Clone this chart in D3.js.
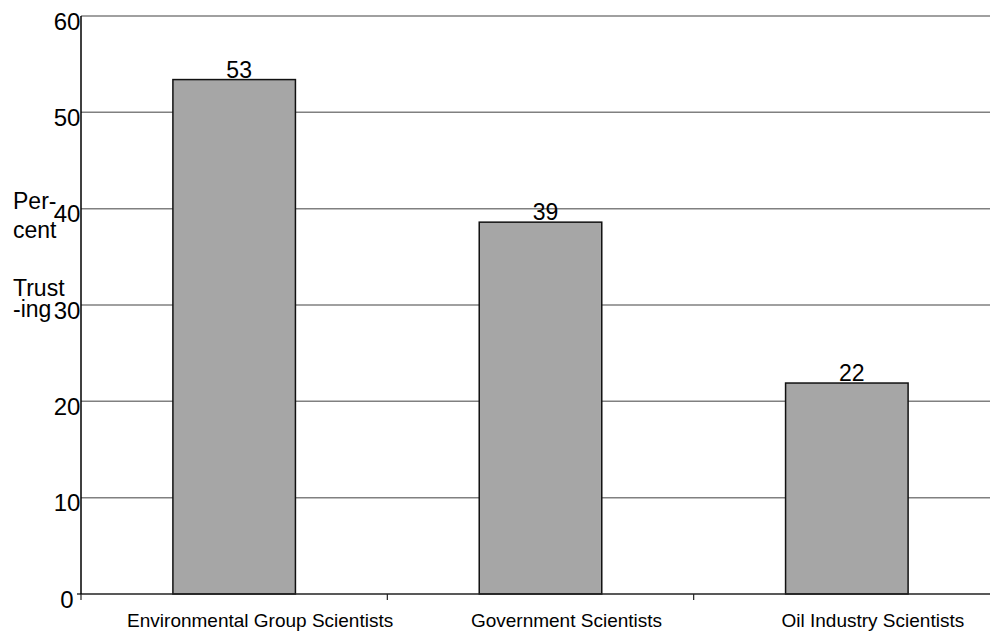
<!DOCTYPE html>
<html>
<head>
<meta charset="utf-8">
<script src="https://cdn.jsdelivr.net/npm/d3@7"></script>
<style>
  html, body { margin: 0; padding: 0; background: #fff; }
  svg { display: block; font-family: "Liberation Sans", Arial, Helvetica, sans-serif; }
</style>
</head>
<body>
<svg id="chart" width="990" height="635"></svg>
<script>
const categories = ["Environmental Group Scientists", "Government Scientists", "Oil Industry Scientists"];
const values = [53.4, 38.6, 21.9];
const valueLabels = ["53", "39", "22"];
const yTicks = [0, 10, 20, 30, 40, 50, 60];
const yTitleLines = ["Per-", "cent", "Trust", "-ing"];

(function () {
const svg = d3.select("#chart");
const mLeft = 81, mRight = 1000, mTop = 16, mBottom = 594;

const y = d3.scaleLinear().domain([0, 60]).range([mBottom, mTop]);
const x = d3.scaleBand().domain(categories).range([mLeft, mRight]).padding(0);
const barFrac = 0.4;

// gridlines
svg.append("g").selectAll("line")
  .data(yTicks.filter(t => t > 0))
  .join("line")
  .attr("x1", mLeft).attr("x2", 990)
  .attr("y1", d => y(d)).attr("y2", d => y(d))
  .attr("stroke", "#808080").attr("stroke-width", 1.5);

// bars
svg.append("g").selectAll("rect")
  .data(values)
  .join("rect")
  .attr("x", (d, i) => x(categories[i]) + x.bandwidth() * (1 - barFrac) / 2)
  .attr("width", x.bandwidth() * barFrac)
  .attr("y", d => y(d))
  .attr("height", d => y(0) - y(d))
  .attr("fill", "#a6a6a6")
  .attr("stroke", "#111")
  .attr("stroke-width", 1.5);

// value labels
svg.append("g").selectAll("text")
  .data(values)
  .join("text")
  .attr("x", (d, i) => x(categories[i]) + x.bandwidth() / 2 + 5)
  .attr("y", d => y(d) - 2)
  .attr("text-anchor", "middle")
  .attr("font-size", 23)
  .attr("fill", "#000")
  .text((d, i) => valueLabels[i]);

// x axis line
svg.append("line")
  .attr("x1", mLeft).attr("x2", 990)
  .attr("y1", y(0)).attr("y2", y(0))
  .attr("stroke", "#222").attr("stroke-width", 1.5);

// x axis ticks at band boundaries
const boundaries = [mLeft].concat(categories.map(c => x(c) + x.bandwidth()));
svg.append("g").selectAll("line")
  .data(boundaries.filter(b => b < 990))
  .join("line")
  .attr("x1", d => d).attr("x2", d => d)
  .attr("y1", y(0)).attr("y2", y(0) + 6)
  .attr("stroke", "#222").attr("stroke-width", 1.2);

// y axis line
svg.append("line")
  .attr("x1", mLeft).attr("x2", mLeft)
  .attr("y1", y(60)).attr("y2", y(0))
  .attr("stroke", "#000").attr("stroke-width", 1.5);

// y tick at 0
svg.append("line")
  .attr("x1", mLeft - 4).attr("x2", mLeft)
  .attr("y1", y(0)).attr("y2", y(0))
  .attr("stroke", "#000").attr("stroke-width", 1.2);

// y tick labels
svg.append("g").selectAll("text")
  .data(yTicks)
  .join("text")
  .attr("x", 67)
  .attr("y", d => y(d) + 13.5)
  .attr("text-anchor", "middle")
  .attr("font-size", 24)
  .attr("fill", "#000")
  .text(d => d);

// x category labels
svg.append("g").selectAll("text")
  .data(categories)
  .join("text")
  .attr("x", d => x(d) + x.bandwidth() / 2 + 26)
  .attr("y", 627)
  .attr("text-anchor", "middle")
  .attr("font-size", 19)
  .attr("fill", "#000")
  .text(d => d);

// y title
const titleBaselines = [209, 238, 296, 317];
svg.append("g").selectAll("text")
  .data(yTitleLines)
  .join("text")
  .attr("x", 13)
  .attr("y", (d, i) => titleBaselines[i])
  .attr("font-size", 23)
  .attr("fill", "#000")
  .text(d => d);
})();
</script>
</body>
</html>
